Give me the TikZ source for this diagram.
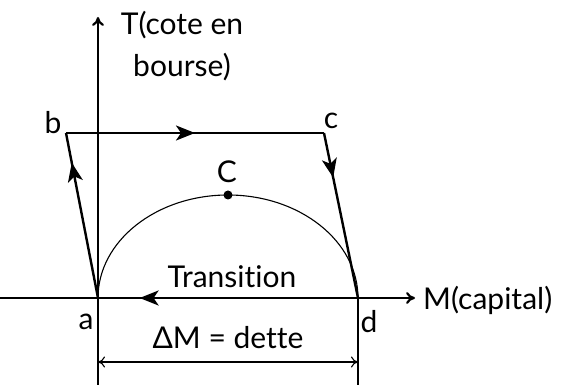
\documentclass[tikz,border=0pt]{standalone}
\usepackage{fontspec}
\setmainfont{Lato}[Ligatures = NoCommon]
\usetikzlibrary{arrows.meta, decorations.markings}
\tikzset{axis/.style = {line width = 2.2pt, -{To[length=9pt, width=12pt]}}}
\tikzset{cycle/.style = {line width = 2.4pt, postaction = {decorate},
	decoration = {markings, mark = at position #1 with {\arrow{Stealth[length=19pt, width=15pt, inset=5pt]}}}}}
\tikzset{lbl/.style = {font = \fontsize{30}{34}\selectfont, inner sep = 0pt}}
\tikzset{guide/.style = {line width = 1.1pt}}

\begin{document}
\begin{tikzpicture}[x = 1pt, y = -1pt]
	\useasboundingbox (0, 0) rectangle (566, 385);

	\coordinate (a) at (98, 298);
	\coordinate (b) at (66, 133);
	\coordinate (c) at (324, 133);
	\coordinate (d) at (358, 298);

	\coordinate (xstart) at (0, 298);
	\coordinate (xend) at (415, 298);
	\coordinate (ystart) at (98, 385);
	\coordinate (yend) at (98, 17);
	\coordinate (dend) at (358, 385);
	\coordinate (da) at (98, 362);
	\coordinate (dd) at (358, 362);

	\node[lbl] (la) at (86, 322) {a};
	\node[lbl] (lb) at (53, 123) {b};
	\node[lbl] (lc) at (331, 121) {c};
	\node[lbl] (ld) at (369, 322) {d};
	\node[lbl] (lC) at (227, 172) {C};
	\node[lbl, align = center, font = \fontsize{30}{42}\selectfont] (T) at (182, 46) {T(cote en\\bourse)};
	\node[lbl, anchor = west] (M) at (423, 300) {M(capital)};
	\node[lbl] (trans) at (232, 277) {Transition};
	\node[lbl] (dM) at (228, 338) {ΔM = dette};

	% axes
	\draw[axis] (xstart) -- (xend);
	\draw[axis] (ystart) -- (yend);

	% the cycle
	\draw[cycle = 0.82] (a) -- (b);
	\draw[cycle = 0.5] (b) -- (c);
	\draw[cycle = 0.27] (c) -- (d);
	\draw[cycle = 0.84] (d) -- (a);

	% arc and point C
	\draw[guide] (a) arc[start angle = 180, end angle = 360, x radius = 130, y radius = 103];
	\fill (228, 195) circle (4.5pt);

	% dimension
	\draw[guide] (d) -- (dend);
	\draw[guide, {To[length=7pt, width=11pt]}-{To[length=7pt, width=11pt]}] (da) -- (dd);
\end{tikzpicture}
\end{document}
